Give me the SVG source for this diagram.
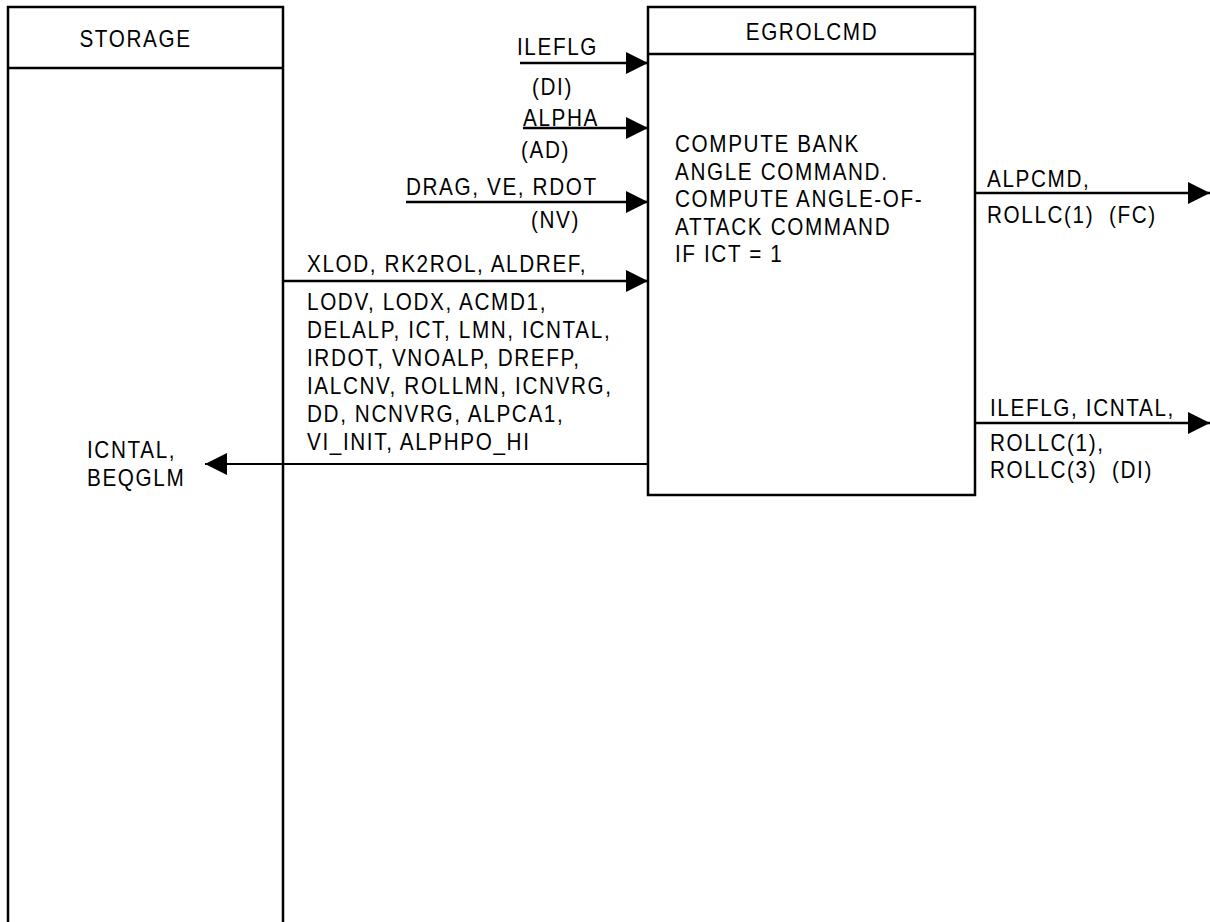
<svg xmlns="http://www.w3.org/2000/svg" width="1210" height="922" viewBox="0 0 1210 922">
<style>
text{font-family:"Liberation Sans",Arial,sans-serif;font-size:23px;letter-spacing:1.8px;fill:#000}
.box{fill:none;stroke:#000;stroke-width:2.5}
.ln{fill:none;stroke:#000;stroke-width:2.5}
.ln2{fill:none;stroke:#000;stroke-width:2}
</style>
<defs>
<marker id="ah" markerUnits="userSpaceOnUse" markerWidth="22" markerHeight="22" refX="22" refY="11" orient="auto">
<path d="M0,0 L22,11 L0,22 z" fill="#000"/>
</marker>
</defs>
<rect width="1210" height="922" fill="#fff"/>
<g id="storage">
<path class="box" d="M8,922 V7 H283 V922"/>
<line class="box" x1="8" y1="68" x2="283" y2="68"/>
<g transform="scale(0.9 1)">
<text x="150.56" y="47" text-anchor="middle">STORAGE</text>
</g>
</g>
<g id="egrolcmd">
<rect class="box" x="648" y="7" width="327" height="488"/>
<line class="box" x1="648" y1="54" x2="975" y2="54"/>
<g transform="scale(0.9 1)">
<text x="902.22" y="40" text-anchor="middle">EGROLCMD</text>
<text x="750" y="152">COMPUTE BANK</text>
<text x="750" y="180">ANGLE COMMAND.</text>
<text x="750" y="207">COMPUTE ANGLE-OF-</text>
<text x="750" y="235">ATTACK COMMAND</text>
<text x="750" y="262">IF ICT = 1</text>
</g>
</g>
<g id="connectors">
<line class="ln" x1="520" y1="63" x2="648" y2="63" marker-end="url(#ah)"/>
<line class="ln" x1="523" y1="128" x2="648" y2="128" marker-end="url(#ah)"/>
<line class="ln" x1="406" y1="202" x2="648" y2="202" marker-end="url(#ah)"/>
<line class="ln" x1="283" y1="281" x2="648" y2="281" marker-end="url(#ah)"/>
<line class="ln2" x1="648" y1="464" x2="205" y2="464" marker-end="url(#ah)"/>
<line class="ln" x1="975" y1="193" x2="1210" y2="193" marker-end="url(#ah)"/>
<line class="ln" x1="975" y1="423" x2="1210" y2="423" marker-end="url(#ah)"/>
<g transform="scale(0.9 1)">
<text x="574.44" y="55">ILEFLG</text>
<text x="591.11" y="95">(DI)</text>
<text x="581.11" y="126">ALPHA</text>
<text x="578.89" y="158">(AD)</text>
<text x="451.11" y="195">DRAG, VE, RDOT</text>
<text x="590" y="228">(NV)</text>
<text x="341.11" y="272">XLOD, RK2ROL, ALDREF,</text>
<text x="341.11" y="310">LODV, LODX, ACMD1,</text>
<text x="341.11" y="338">DELALP, ICT, LMN, ICNTAL,</text>
<text x="341.11" y="366">IRDOT, VNOALP, DREFP,</text>
<text x="341.11" y="394">IALCNV, ROLLMN, ICNVRG,</text>
<text x="341.11" y="422">DD, NCNVRG, ALPCA1,</text>
<text x="341.11" y="450">VI_INIT, ALPHPO_HI</text>
<text x="96.67" y="458">ICNTAL,</text>
<text x="96.67" y="486">BEQGLM</text>
<text x="1096.67" y="187">ALPCMD,</text>
<text x="1096.67" y="223" xml:space="preserve">ROLLC(1)  (FC)</text>
<text x="1100" y="416">ILEFLG, ICNTAL,</text>
<text x="1100" y="451">ROLLC(1),</text>
<text x="1100" y="478" xml:space="preserve">ROLLC(3)  (DI)</text>
</g>
</g>
</svg>
